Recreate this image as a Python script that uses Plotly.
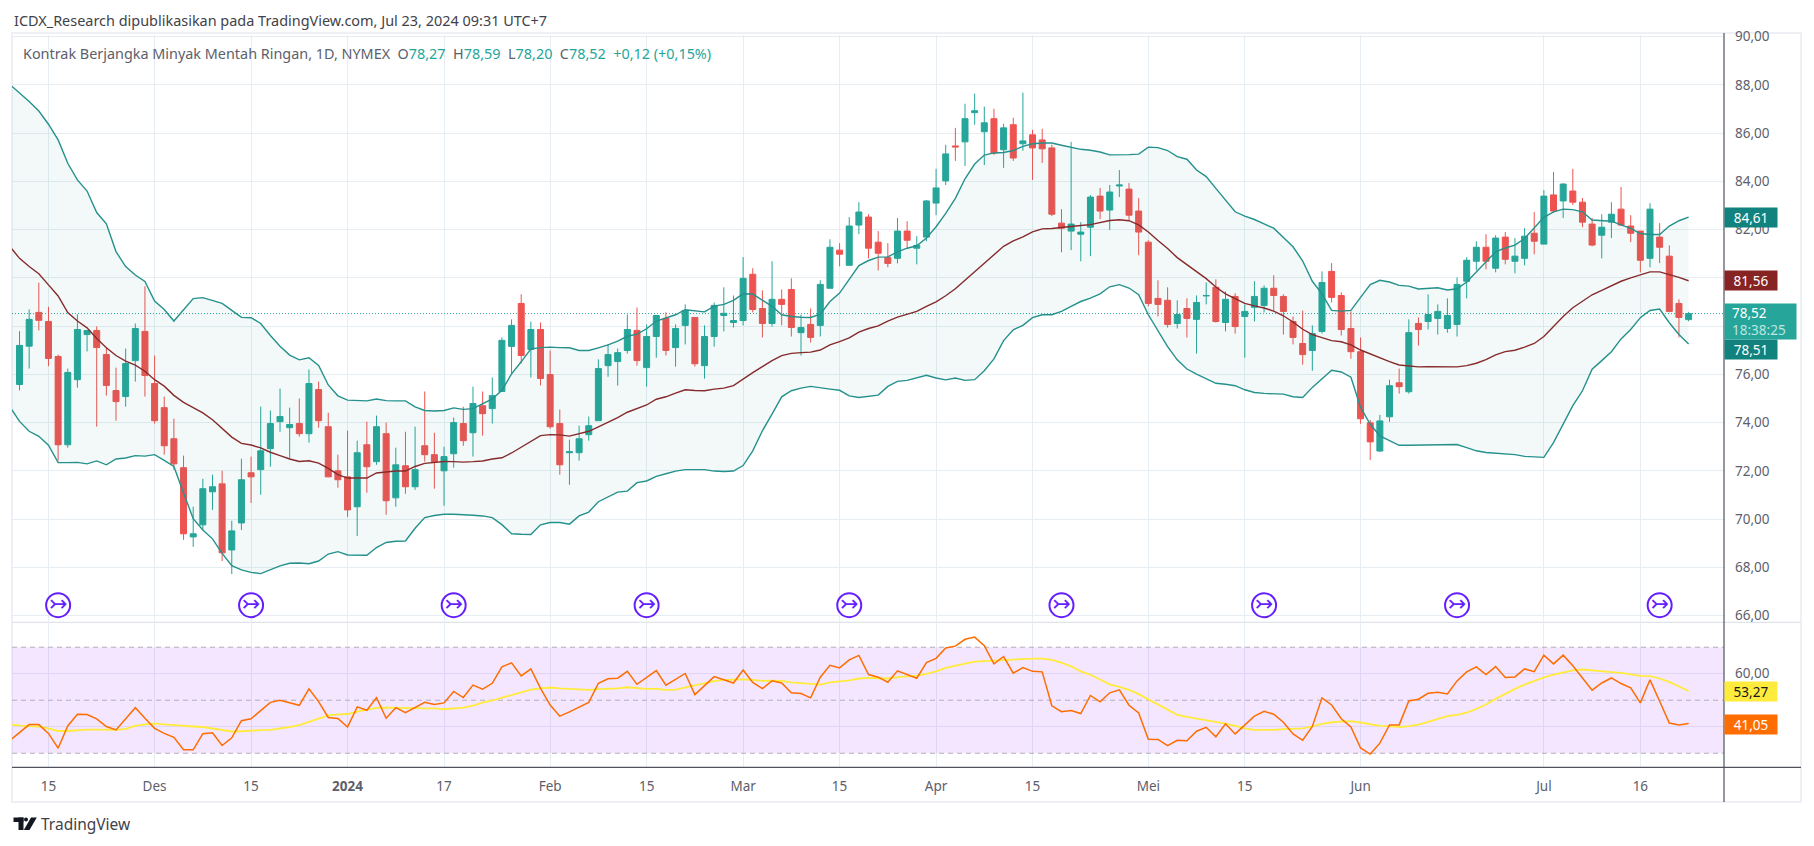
###########
# IMPORTS #
###########
import plotly.graph_objects as go

########
# DATA #
########
WIDTH = 1814
HEIGHT = 846

opens = [
    75.58, 77.17, 78.57, 78.19, 76.74, 73.08, 75.78, 77.65, 77.82, 76.82,
    75.33, 75.08, 76.57, 77.78, 75.62, 74.62, 73.33, 72.13, 69.26, 69.76,
    71.13, 71.46, 68.72, 69.84, 71.92, 72.05, 72.92, 74.04, 73.79, 73.96,
    73.54, 75.37, 73.83, 72.00, 71.75, 70.51, 73.08, 72.38, 73.54, 70.88,
    72.21, 71.34, 73.04, 72.67, 72.00, 72.71, 73.96, 73.58, 74.70, 74.58,
    75.29, 77.16, 78.94, 77.03, 77.86, 75.99, 73.96, 72.75, 72.75, 73.50,
    74.08, 76.36, 76.53, 76.99, 77.82, 76.28, 77.57, 78.32, 77.11, 78.03,
    78.36, 76.36, 77.57, 78.44, 78.15, 78.23, 80.15, 78.73, 78.11, 79.11,
    79.52, 77.73, 78.07, 78.03, 79.57, 81.15, 80.52, 82.19, 82.52, 81.48,
    80.85, 80.81, 81.94, 81.23, 81.69, 83.10, 84.02, 85.47, 85.64, 86.85,
    86.06, 86.60, 85.31, 86.35, 85.56, 85.93, 85.72, 85.39, 82.27, 81.94,
    81.81, 82.10, 83.39, 82.81, 83.81, 83.68, 82.77, 81.48, 79.15, 79.07,
    78.11, 78.73, 78.28, 79.25, 79.61, 78.15, 79.23, 78.40, 78.78, 78.86,
    79.57, 79.23, 78.19, 77.28, 76.99, 77.78, 80.27, 79.27, 77.90, 76.94,
    73.99, 72.82, 74.24, 75.65, 75.28, 78.11, 78.19, 78.32, 77.90, 78.07,
    79.86, 80.69, 81.27, 80.40, 81.69, 80.69, 80.81, 81.85, 81.40, 83.44,
    83.19, 83.60, 83.14, 82.23, 81.77, 82.31, 82.85, 82.15, 81.94, 80.81,
    81.69, 80.90, 78.94, 78.27,
]
highs = [
    77.79, 78.69, 79.80, 78.80, 76.82, 76.24, 78.49, 77.82, 77.99, 77.11,
    76.28, 77.07, 78.11, 79.65, 76.78, 75.08, 74.16, 72.63, 70.51, 71.67,
    71.84, 72.00, 69.93, 72.50, 72.59, 74.66, 74.50, 75.41, 74.62, 75.00,
    76.20, 75.70, 74.41, 72.67, 73.67, 73.25, 74.04, 74.29, 74.00, 72.96,
    73.62, 73.83, 75.29, 73.58, 73.00, 74.21, 74.66, 75.49, 75.29, 75.87,
    77.53, 78.28, 79.32, 78.19, 78.15, 76.99, 74.54, 73.29, 73.87, 74.25,
    76.62, 77.26, 77.07, 78.48, 78.77, 78.07, 78.44, 78.57, 78.07, 78.90,
    78.36, 78.03, 78.98, 79.61, 79.27, 80.86, 80.40, 79.48, 80.69, 79.52,
    79.98, 78.48, 78.73, 79.90, 81.60, 81.44, 82.52, 83.14, 82.64, 81.94,
    81.44, 82.48, 82.35, 81.73, 83.23, 84.52, 85.52, 86.22, 87.22, 87.64,
    87.10, 87.01, 86.39, 86.64, 87.68, 86.14, 86.18, 85.52, 82.85, 85.64,
    82.31, 83.43, 83.73, 83.85, 84.47, 83.93, 83.31, 81.56, 79.90, 79.61,
    79.07, 79.15, 79.27, 79.81, 79.94, 79.44, 79.36, 78.90, 79.86, 79.69,
    80.11, 79.32, 78.40, 78.65, 78.03, 80.27, 80.61, 79.40, 78.61, 77.53,
    74.11, 74.32, 75.78, 76.24, 78.28, 78.36, 79.32, 78.90, 79.15, 80.02,
    80.86, 81.52, 81.81, 81.77, 81.90, 81.65, 82.06, 82.73, 83.64, 84.39,
    83.93, 84.52, 83.31, 82.48, 82.64, 83.14, 83.77, 82.60, 81.94, 83.10,
    82.27, 81.35, 79.11, 78.59,
]
lows = [
    75.33, 76.24, 77.82, 76.34, 72.42, 72.96, 75.45, 76.95, 73.83, 75.12,
    74.08, 74.66, 75.70, 75.08, 73.96, 72.67, 72.05, 69.14, 68.85, 69.55,
    70.38, 68.26, 67.72, 69.55, 70.67, 71.01, 72.17, 73.62, 72.50, 73.42,
    73.17, 73.79, 71.75, 71.30, 70.09, 69.30, 71.09, 72.25, 70.18, 70.51,
    71.05, 71.21, 72.38, 71.26, 70.55, 72.13, 73.04, 72.59, 73.46, 73.96,
    75.29, 76.03, 76.45, 75.87, 75.54, 73.75, 71.84, 71.42, 72.42, 73.25,
    74.08, 75.90, 75.53, 76.86, 76.36, 75.49, 76.69, 76.78, 76.32, 77.24,
    76.32, 75.82, 77.15, 77.78, 77.94, 78.03, 78.57, 77.53, 77.98, 78.03,
    77.57, 76.78, 77.32, 77.57, 79.57, 80.48, 80.52, 81.81, 80.81, 80.31,
    80.44, 80.60, 81.23, 80.56, 81.52, 82.60, 83.85, 84.85, 84.64, 86.35,
    84.68, 85.10, 84.56, 84.85, 85.27, 84.06, 84.77, 82.56, 81.06, 81.15,
    80.69, 80.90, 82.44, 81.98, 83.35, 82.39, 80.94, 78.82, 78.40, 77.94,
    77.90, 77.53, 76.86, 78.90, 78.15, 77.78, 77.69, 76.69, 78.19, 78.57,
    78.65, 77.65, 77.24, 76.40, 76.15, 77.69, 78.98, 77.61, 76.65, 73.95,
    72.45, 72.78, 74.03, 75.20, 75.20, 77.19, 77.86, 77.65, 77.73, 77.57,
    79.15, 80.31, 80.36, 80.23, 80.56, 80.19, 80.52, 80.98, 81.40, 82.69,
    82.48, 83.02, 82.10, 81.31, 80.81, 81.65, 82.15, 81.48, 80.23, 80.44,
    80.61, 78.57, 77.53, 78.20,
]
closes = [
    77.20, 78.28, 78.24, 76.66, 73.08, 76.08, 77.86, 77.82, 77.11, 75.54,
    74.87, 76.45, 77.90, 75.95, 74.08, 73.04, 72.29, 69.39, 69.39, 71.26,
    71.34, 68.60, 69.51, 71.63, 71.75, 72.83, 73.96, 74.25, 73.92, 73.54,
    75.62, 74.08, 71.75, 71.63, 70.38, 72.75, 72.17, 73.83, 70.76, 72.25,
    71.34, 72.05, 72.67, 72.38, 72.59, 74.00, 73.25, 74.79, 74.37, 75.12,
    77.41, 78.03, 76.78, 77.86, 75.83, 73.83, 72.25, 72.79, 73.33, 73.87,
    76.24, 76.82, 76.90, 77.86, 76.57, 77.57, 78.44, 76.99, 77.90, 78.65,
    76.44, 77.57, 78.86, 78.53, 78.23, 79.98, 78.69, 78.11, 79.11, 78.90,
    77.94, 77.94, 77.53, 79.73, 81.27, 80.98, 82.15, 82.73, 81.23, 81.02,
    80.60, 81.94, 81.56, 81.35, 83.19, 83.73, 85.14, 85.43, 86.60, 86.93,
    86.43, 85.18, 86.22, 84.97, 85.68, 85.39, 85.35, 82.64, 82.06, 82.23,
    81.90, 83.35, 82.77, 83.56, 83.85, 82.60, 81.90, 78.94, 78.90, 78.07,
    78.48, 78.32, 78.98, 79.27, 78.19, 79.11, 77.98, 78.61, 79.23, 79.57,
    79.27, 78.61, 77.53, 76.82, 77.69, 79.81, 79.19, 77.86, 76.94, 74.16,
    73.20, 74.07, 75.53, 75.49, 77.73, 77.86, 78.48, 78.61, 78.44, 79.73,
    80.73, 81.27, 80.69, 81.65, 80.77, 80.90, 81.73, 81.52, 83.39, 82.77,
    83.89, 83.14, 82.31, 81.36, 82.10, 82.64, 82.19, 81.85, 80.73, 82.85,
    81.27, 78.61, 78.36, 78.52,
]
candle_x = list(range(174))

# Bollinger bands and the RSI start one bar left of the first visible candle
line_x = list(range(-1, 174))
bb_upper = [
    88.02,
    87.68, 87.31, 86.92, 86.37, 85.72, 84.75, 84.06, 83.60, 82.71, 82.24,
    81.09, 80.47, 80.12, 79.85, 79.04, 78.69, 78.21, 78.67, 79.14, 79.18,
    79.07, 78.94, 78.65, 78.36, 78.35, 78.11, 77.61, 77.17, 76.80, 76.60,
    76.69, 76.37, 75.56, 75.11, 74.93, 74.90, 74.90, 74.98, 74.91, 74.90,
    74.90, 74.65, 74.50, 74.48, 74.50, 74.61, 74.55, 74.58, 74.77, 74.98,
    75.34, 76.02, 76.52, 77.06, 77.11, 77.13, 77.11, 77.10, 76.99, 76.99,
    77.10, 77.22, 77.38, 77.58, 77.67, 77.89, 78.21, 78.35, 78.47, 78.68,
    78.62, 78.59, 78.83, 78.90, 79.07, 79.34, 79.33, 79.09, 78.82, 78.47,
    78.40, 78.37, 78.36, 78.50, 79.02, 79.37, 79.94, 80.51, 80.72, 80.86,
    80.87, 81.08, 81.23, 81.33, 81.65, 82.12, 82.67, 83.30, 84.11, 84.72,
    85.09, 85.18, 85.20, 85.28, 85.45, 85.56, 85.59, 85.59, 85.50, 85.42,
    85.33, 85.29, 85.22, 85.10, 85.09, 85.11, 85.13, 85.42, 85.40, 85.28,
    85.03, 84.92, 84.47, 84.20, 83.71, 83.23, 82.74, 82.56, 82.42, 82.24,
    82.06, 81.67, 81.29, 80.70, 79.86, 79.34, 78.65, 78.62, 78.65, 79.19,
    79.72, 79.90, 79.83, 79.69, 79.66, 79.54, 79.58, 79.59, 79.50, 79.55,
    79.83, 80.25, 80.70, 81.08, 81.24, 81.36, 81.63, 82.05, 82.51, 82.74,
    82.85, 82.83, 82.74, 82.40, 82.37, 82.35, 82.20, 82.05, 81.84, 81.80,
    81.80, 82.15, 82.37, 82.52,
]
bb_basis = [
    81.30,
    80.81, 80.47, 80.17, 79.71, 79.25, 78.56, 78.21, 77.93, 77.49, 77.10,
    76.78, 76.55, 76.38, 76.13, 75.78, 75.51, 75.13, 74.84, 74.61, 74.40,
    74.12, 73.75, 73.40, 73.14, 73.07, 72.95, 72.77, 72.63, 72.49, 72.39,
    72.42, 72.32, 72.10, 71.84, 71.70, 71.70, 71.70, 71.91, 71.96, 71.99,
    71.99, 72.18, 72.31, 72.34, 72.39, 72.38, 72.36, 72.38, 72.41, 72.49,
    72.54, 72.74, 72.97, 73.22, 73.46, 73.50, 73.49, 73.44, 73.54, 73.64,
    73.82, 74.00, 74.21, 74.43, 74.59, 74.73, 74.97, 75.07, 75.22, 75.36,
    75.33, 75.32, 75.39, 75.43, 75.53, 75.81, 76.07, 76.32, 76.57, 76.78,
    76.87, 76.90, 76.92, 77.01, 77.22, 77.36, 77.51, 77.75, 77.90, 78.01,
    78.21, 78.37, 78.48, 78.61, 78.82, 79.01, 79.26, 79.55, 79.90, 80.25,
    80.62, 80.93, 81.31, 81.53, 81.70, 81.91, 82.03, 82.05, 82.08, 82.13,
    82.17, 82.21, 82.28, 82.38, 82.41, 82.37, 82.20, 81.90, 81.55, 81.22,
    80.84, 80.55, 80.24, 79.97, 79.62, 79.34, 79.14, 78.94, 78.84, 78.75,
    78.62, 78.43, 78.17, 77.87, 77.65, 77.51, 77.40, 77.35, 77.22, 77.01,
    76.85, 76.67, 76.53, 76.39, 76.35, 76.31, 76.32, 76.32, 76.29, 76.31,
    76.36, 76.46, 76.61, 76.81, 76.94, 77.00, 77.13, 77.28, 77.57, 78.00,
    78.40, 78.76, 79.04, 79.30, 79.48, 79.66, 79.86, 80.00, 80.11, 80.25,
    80.25, 80.15, 80.02, 79.88,
]
bb_lower = [
    74.65,
    74.05, 73.64, 73.43, 73.06, 72.34, 72.34, 72.35, 72.29, 72.41, 72.25,
    72.49, 72.53, 72.63, 72.61, 72.67, 72.43, 72.18, 71.08, 70.02, 69.55,
    69.18, 68.58, 68.07, 67.89, 67.79, 67.74, 67.89, 68.06, 68.17, 68.18,
    68.15, 68.26, 68.55, 68.65, 68.51, 68.50, 68.50, 68.82, 69.03, 69.08,
    69.09, 69.62, 70.06, 70.15, 70.20, 70.20, 70.19, 70.16, 70.13, 70.06,
    69.77, 69.39, 69.37, 69.36, 69.76, 69.86, 69.86, 69.79, 70.13, 70.29,
    70.72, 70.92, 71.12, 71.16, 71.51, 71.58, 71.77, 71.88, 71.99, 72.05,
    72.05, 72.05, 71.99, 71.97, 71.99, 72.22, 72.83, 73.66, 74.35, 75.07,
    75.32, 75.43, 75.50, 75.46, 75.39, 75.34, 75.11, 75.04, 75.10, 75.14,
    75.50, 75.71, 75.75, 75.86, 75.96, 75.85, 75.77, 75.85, 75.75, 75.78,
    76.15, 76.64, 77.40, 77.85, 78.03, 78.35, 78.47, 78.47, 78.61, 78.82,
    79.02, 79.16, 79.34, 79.63, 79.72, 79.58, 79.30, 78.47, 77.79, 77.15,
    76.60, 76.22, 76.01, 75.81, 75.63, 75.59, 75.53, 75.36, 75.25, 75.21,
    75.18, 75.18, 75.07, 75.04, 75.46, 75.81, 76.17, 76.10, 75.88, 74.63,
    73.93, 73.45, 73.24, 73.06, 73.06, 73.06, 73.06, 73.07, 73.09, 73.09,
    72.96, 72.83, 72.76, 72.73, 72.71, 72.67, 72.60, 72.59, 72.56, 73.17,
    73.93, 74.70, 75.32, 76.21, 76.57, 76.94, 77.47, 77.86, 78.35, 78.65,
    78.71, 78.14, 77.65, 77.26,
]
rsi = [
    34.8,
    37.8, 40.8, 40.8, 37.5, 31.9, 40.3, 44.7, 44.6, 43.0, 40.1,
    38.8, 43.2, 47.2, 43.2, 39.4, 37.5, 36.0, 31.3, 31.3, 37.4,
    37.7, 32.9, 35.8, 42.3, 43.0, 46.1, 49.2, 50.0, 49.0, 48.1,
    54.3, 49.5, 43.5, 43.1, 39.9, 47.5, 46.2, 51.0, 43.2, 47.2,
    45.3, 47.2, 49.2, 48.4, 49.0, 53.3, 51.0, 55.7, 54.2, 56.4,
    62.6, 64.1, 59.2, 61.8, 54.5, 48.2, 44.0, 45.6, 47.4, 49.2,
    56.4, 58.1, 58.3, 60.9, 56.0, 58.6, 61.2, 55.7, 57.9, 60.1,
    52.1, 55.5, 58.9, 57.7, 56.5, 61.4, 56.7, 54.4, 57.3, 56.5,
    52.8, 52.5, 50.9, 58.7, 63.2, 62.2, 65.2, 66.9, 59.7, 58.7,
    56.8, 61.1, 59.7, 58.3, 64.2, 65.8, 69.7, 70.4, 73.0, 73.8,
    70.6, 63.7, 66.5, 60.2, 62.3, 60.9, 60.7, 47.9, 45.7, 46.1,
    45.0, 51.8, 49.4, 52.8, 53.9, 48.1, 45.2, 35.3, 35.2, 32.9,
    34.9, 34.7, 38.3, 39.8, 36.2, 41.1, 37.3, 40.8, 44.0, 45.8,
    44.7, 41.7, 37.3, 34.9, 40.1, 50.9, 48.2, 43.0, 39.9, 32.0,
    29.7, 33.8, 40.7, 40.7, 49.7, 50.4, 52.6, 53.0, 52.4, 57.3,
    60.7, 62.6, 59.7, 62.7, 58.6, 58.8, 61.8, 60.8, 67.0, 63.7,
    67.0, 63.0, 58.6, 53.8, 56.5, 58.4, 56.3, 54.7, 49.0, 57.7,
    49.6, 41.4, 40.7, 41.2,
]
rsi_ma = [
    40.9,
    40.4, 40.2, 40.1, 39.4, 38.4, 38.4, 38.7, 38.9, 38.9, 38.9,
    38.8, 39.2, 40.3, 40.9, 41.2, 40.9, 40.6, 40.2, 40.1, 39.9,
    39.4, 38.7, 38.2, 38.3, 38.6, 38.7, 38.8, 39.3, 39.9, 40.6,
    41.9, 43.3, 44.3, 44.7, 44.8, 45.7, 46.5, 47.1, 47.2, 47.2,
    47.1, 47.0, 46.9, 46.9, 46.6, 46.9, 47.2, 48.0, 49.1, 49.9,
    50.9, 51.8, 53.0, 54.0, 54.5, 54.8, 54.5, 54.3, 54.2, 53.9,
    54.2, 54.3, 54.5, 54.9, 54.5, 54.3, 54.3, 53.9, 54.0, 54.8,
    55.5, 56.2, 57.2, 57.7, 57.8, 57.9, 57.7, 57.3, 57.4, 57.3,
    56.7, 56.4, 56.0, 55.9, 56.7, 57.0, 57.5, 58.2, 58.4, 58.3,
    58.2, 58.7, 58.9, 59.3, 59.9, 60.9, 62.2, 63.1, 63.8, 64.6,
    64.8, 64.8, 65.1, 65.3, 65.6, 65.7, 65.7, 65.2, 64.2, 62.8,
    60.9, 59.6, 57.8, 56.0, 55.0, 53.9, 52.3, 50.3, 48.5, 46.5,
    44.5, 43.7, 43.1, 42.6, 41.9, 41.2, 40.3, 39.4, 38.8, 38.7,
    38.8, 39.1, 39.2, 39.4, 40.1, 41.1, 41.7, 41.8, 42.1, 41.6,
    40.9, 40.3, 40.2, 39.9, 40.2, 40.8, 41.8, 43.0, 44.0, 44.5,
    45.3, 46.7, 48.4, 50.5, 52.5, 54.3, 55.9, 57.4, 58.6, 59.7,
    60.6, 61.3, 61.6, 61.2, 60.8, 60.6, 60.3, 59.8, 59.2, 59.1,
    58.2, 56.9, 55.2, 53.5,
]

# Time axis, positions are bar numbers
time_ticks = [3, 14, 24, 34, 44, 55, 65, 75, 85, 95, 105, 117, 127, 139, 158, 168]
time_labels = ["15", "Des", "15", "<b>2024</b>", "17", "Feb", "15", "Mar", "15", "Apr",
               "15", "Mei", "15", "Jun", "Jul", "16"]

price_ticks = [66, 68, 70, 72, 74, 76, 78, 80, 82, 84, 86, 88, 90]
rsi_ticks = [40, 60]
rsi_bounds = [30, 50, 70]

# Bars that carry the purple marker, and the price level they float at
event_x = [4, 24, 45, 65, 86, 108, 129, 149, 170]
event_level = 66.43
last_close = 78.52

# Labels on the right axis: text, level, background, text colour
price_labels = [
    ("84,61", 82.51, "#12827e", "white"),
    ("81,56", 79.90, "#872323", "white"),
    ("78,51", 77.04, "#12827e", "white"),
]
rsi_labels = [
    ("53,27", 53.4, "#ffeb3b", "#131722"),
    ("41,05", 40.87, "#ff6d00", "white"),
]

##########
# COLORS #
##########
UP = "#26a69a"
DOWN = "#ef5350"
GRID = "#e6edf3"
AXIS = "#50535e"
TEXT = "#5d606b"
FONT = "Noto Sans"
TEAL = "#25918c"
MAROON = "#862a2c"

x_range = [-0.78, 176.67]


#############
# FUNCTIONS #
#############
def px_x(x):
    return x / WIDTH


def px_y(y):
    return 1 - y / HEIGHT


def add_text(fig, x, y, text, size, color=TEXT):
    fig.add_annotation(xref="paper", yref="paper", x=px_x(x), y=px_y(y), text=text,
                       showarrow=False, xanchor="left", yanchor="middle",
                       font=dict(family=FONT, size=size, color=color))


def add_axis_label(fig, yref, level, text, bgcolor, color, width=52, height=19, align="center"):
    fig.add_annotation(xref="paper", yref=yref, x=px_x(1724), y=level, text=text,
                       showarrow=False, xanchor="left", yanchor="middle", width=width,
                       height=height, bgcolor=bgcolor, borderpad=0, align=align,
                       font=dict(family=FONT, size=13.5, color=color))


##########
# CHART  #
##########
fig = go.Figure()

# Bollinger bands
fig.add_trace(go.Scatter(x=line_x, y=bb_upper, mode="lines", xaxis="x", yaxis="y",
                         line=dict(color=TEAL, width=1.4)))
fig.add_trace(go.Scatter(x=line_x, y=bb_lower, mode="lines", xaxis="x", yaxis="y",
                         line=dict(color=TEAL, width=1.4), fill="tonexty",
                         fillcolor="rgba(33,150,143,0.06)"))
fig.add_trace(go.Scatter(x=line_x, y=bb_basis, mode="lines", xaxis="x", yaxis="y",
                         line=dict(color=MAROON, width=1.4)))

# Candles
fig.add_trace(go.Candlestick(x=candle_x, open=opens, high=highs, low=lows, close=closes,
                             xaxis="x", yaxis="y", whiskerwidth=0,
                             increasing=dict(line=dict(color=UP, width=1), fillcolor=UP),
                             decreasing=dict(line=dict(color=DOWN, width=1), fillcolor=DOWN)))

# Event markers
fig.add_trace(go.Scatter(x=event_x, y=[event_level] * len(event_x), mode="markers+text",
                         xaxis="x", yaxis="y", text=["↣"] * len(event_x),
                         textposition="middle center",
                         textfont=dict(family="DejaVu Sans", size=22, color="#651fff"),
                         marker=dict(symbol="circle", size=24, color="white",
                                     line=dict(color="#651fff", width=2))))

# RSI pane
fig.add_trace(go.Scatter(x=line_x, y=rsi_ma, mode="lines", xaxis="x2", yaxis="y2",
                         line=dict(color="#ffeb3b", width=1.8)))
fig.add_trace(go.Scatter(x=line_x, y=rsi, mode="lines", xaxis="x2", yaxis="y2",
                         line=dict(color="#ff6d00", width=1.5)))

fig.add_shape(type="rect", xref="x2", yref="y2", x0=x_range[0], x1=x_range[1], y0=rsi_bounds[0],
              y1=rsi_bounds[2], fillcolor="rgba(145,5,245,0.1)", line_width=0, layer="between")
for level in rsi_bounds:
    fig.add_shape(type="line", xref="x2", yref="y2", x0=x_range[0], x1=x_range[1], y0=level, y1=level,
                  line=dict(color="#b4aebb", width=1, dash="5px,4px"), layer="between")

# Last price line
fig.add_shape(type="line", xref="x", yref="y", x0=x_range[0], x1=x_range[1], y0=last_close, y1=last_close,
              line=dict(color=UP, width=1, dash="1px,2px"), layer="between")

# Frame, pane separator and axis lines
fig.add_shape(type="rect", xref="paper", yref="paper", x0=px_x(12), x1=px_x(1801),
              y0=px_y(802), y1=px_y(33), line=dict(color="#eff0f6", width=2), layer="below")
fig.add_shape(type="line", xref="paper", yref="paper", x0=px_x(12), x1=px_x(1801),
              y0=px_y(622.3), y1=px_y(622.3), line=dict(color="#e0e3eb", width=1.2), layer="below")
fig.add_shape(type="line", xref="paper", yref="paper", x0=px_x(1724), x1=px_x(1724),
              y0=px_y(802), y1=px_y(33), line=dict(color=AXIS, width=1.2))
fig.add_shape(type="line", xref="paper", yref="paper", x0=px_x(12), x1=px_x(1801),
              y0=px_y(767.3), y1=px_y(767.3), line=dict(color=AXIS, width=1.2))

# TradingView mark
fig.add_shape(type="rect", xref="paper", yref="paper", x0=px_x(13.5), x1=px_x(23.5),
              y0=px_y(822), y1=px_y(817.5), fillcolor="#131722", line_width=0)
fig.add_shape(type="rect", xref="paper", yref="paper", x0=px_x(18.5), x1=px_x(23.5),
              y0=px_y(830), y1=px_y(817.5), fillcolor="#131722", line_width=0)
fig.add_shape(type="circle", xref="paper", yref="paper", x0=px_x(24), x1=px_x(28),
              y0=px_y(821.5), y1=px_y(817.5), fillcolor="#131722", line_width=0)
fig.add_shape(type="path", xref="paper", yref="paper", line_width=0, fillcolor="#131722",
              path=f"M {px_x(31)} {px_y(817.5)} L {px_x(36.8)} {px_y(817.5)} "
                   f"L {px_x(29.5)} {px_y(830)} L {px_x(23.8)} {px_y(830)} Z")

# Texts
add_text(fig, 12, 20, "ICDX_Research dipublikasikan pada TradingView.com, Jul 23, 2024 09:31 UTC+7", 14.45, "#3f4249")
val = f'<span style="color:{UP}">%s</span>'
legend = ("Kontrak Berjangka Minyak Mentah Ringan, 1D, NYMEX\u00a0\u00a0"
          "O" + val % "78,27" + "\u00a0\u00a0H" + val % "78,59" + "\u00a0\u00a0L" + val % "78,20"
          + "\u00a0\u00a0C" + val % "78,52" + "\u00a0\u00a0" + val % "+0,12 (+0,15%)")
add_text(fig, 20.5, 53, legend, 14.4)
add_text(fig, 39, 824, "TradingView", 15.5, "#3f4249")

# Labels on the right axis
for text, level, bgcolor, color in price_labels:
    add_axis_label(fig, "y", level, text, bgcolor, color)
add_axis_label(fig, "y", 78.2, '\u00a0\u00a078,52<br>\u00a0\u00a0<span style="color:#bde5e1">18:38:25</span>',
               UP, "white", width=71, height=35, align="left")
for text, level, bgcolor, color in rsi_labels:
    add_axis_label(fig, "y2", level, text, bgcolor, color)

# Axes
x_domain = [px_x(12), px_x(1724)]
fig.update_layout(
    width=WIDTH, height=HEIGHT, autosize=False,
    margin=dict(l=0, r=0, t=0, b=0),
    paper_bgcolor="white", plot_bgcolor="white",
    showlegend=False, hovermode=False, separators=",.",
    boxgap=0.38, boxgroupgap=0,
    xaxis=dict(domain=x_domain, range=x_range, anchor="y", showticklabels=False,
               tickvals=time_ticks, showgrid=True, gridcolor=GRID, gridwidth=1.2,
               zeroline=False, rangeslider=dict(visible=False), fixedrange=True, automargin=False),
    xaxis2=dict(domain=x_domain, range=x_range, anchor="y2", tickvals=time_ticks,
                ticktext=time_labels, showgrid=True, gridcolor=GRID, gridwidth=1.2,
                zeroline=False, ticks="", ticklabelstandoff=9, automargin=False,
                tickfont=dict(family=FONT, size=13.5, color=TEXT), fixedrange=True),
    yaxis=dict(domain=[px_y(622.3), px_y(35)], range=[65.72, 90.07], side="right",
               anchor="x", tickvals=price_ticks, tickformat=".2f", showgrid=True,
               gridcolor=GRID, gridwidth=1.2, zeroline=False, ticks="", automargin=False,
               ticklabelstandoff=10,
               tickfont=dict(family=FONT, size=13.5, color=TEXT), fixedrange=True),
    yaxis2=dict(domain=[px_y(767.3), px_y(622.3)], range=[24.7, 79.4], side="right",
                anchor="x2", tickvals=rsi_ticks, tickformat=".2f", showgrid=True,
                gridcolor=GRID, gridwidth=1.2, zeroline=False, ticks="", automargin=False,
                ticklabelstandoff=10,
                tickfont=dict(family=FONT, size=13.5, color=TEXT), fixedrange=True),
)

fig.write_html("out.html", config=dict(displayModeBar=False),
               post_script="document.body.style.margin='0';")
